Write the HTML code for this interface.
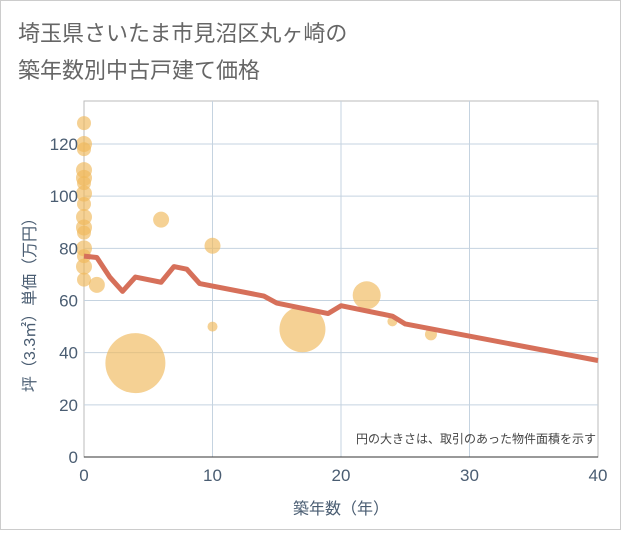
<!DOCTYPE html>
<html><head><meta charset="utf-8"><style>
body{margin:0;background:#fff;font-family:"Liberation Sans","Noto Sans CJK JP",sans-serif}
#c{position:relative;width:621px;height:530px;box-sizing:border-box;border:1px solid #ccc;background:#fff}
</style></head><body>
<div id="c">
<svg width="619" height="528" font-family="Liberation Sans, Noto Sans CJK JP, sans-serif">
<text x="17" y="40" font-size="22" fill="#666">埼玉県さいたま市見沼区丸ヶ崎の</text>
<text x="17" y="77" font-size="22" fill="#666">築年数別中古戸建て価格</text>
<g id="grid"></g><g id="bub"></g><g id="ln"></g><g id="ax"></g>
<text x="595" y="442" font-size="12" fill="#444" text-anchor="end">円の大きさは、取引のあった物件面積を示す</text>
<text x="340" y="513" font-size="16" fill="#4a5d72" text-anchor="middle">築年数（年）</text>
<text transform="translate(34,300) rotate(-90)" font-size="16" fill="#4a5d72" text-anchor="middle">坪（3.3㎡）単価（万円）</text>
</svg></div>
<script>
const xTicks=[0,10,20,30,40];
const yTicks=[0,20,40,60,80,100,120];
const lineX=[0,1,2,3,4,6,7,8,9,14,15,19,20,24,25,40];
const lineY=[77,76.5,69,63.5,69,67,73,72,66.5,61.7,59,55,58,54,51,37];
const bubX=[0,0,0,0,0,0,0,0,0,0,0,0,0,0,0,1,6,10,10,4,17,22,24,27];
const bubY=[128,120,118,110,107,105,101,97,92,88,86,80,77,73,68,66,91,81,50,36,49,62,52,47];
const bubR=[7,8,7,8,8,7,8,7,8,8,7,8,7,8,7,8,8,8,5,30,23,14,5,6];
const X0=83,X1=597,Y0=456,YT=100;
const sx=v=>X0+(v/40)*(X1-X0);
const sy=v=>Y0-v*(313/120);
const NS="http://www.w3.org/2000/svg";
function mk(t,p,a){const e=document.createElementNS(NS,t);for(const k in a)e.setAttribute(k,a[k]);p.appendChild(e);return e;}
const g=document.getElementById('grid');
const frame=mk('rect',g,{x:X0,y:YT,width:X1-X0,height:Y0-YT,fill:'none',stroke:'#bbb'});


xTicks.forEach(v=>{if(v>0&&v<40){const l=mk('line',g,{x1:sx(v),x2:sx(v),y1:YT,y2:Y0,stroke:'#c5d3e0'});

}});
yTicks.forEach(v=>{if(v>0){const l=mk('line',g,{x1:X0,x2:X1,y1:sy(v),y2:sy(v),stroke:'#c5d3e0'});

}});
const ax=document.getElementById('ax');
const xl=mk('line',ax,{x1:X0,x2:X1,y1:Y0,y2:Y0,stroke:'#333'});


xTicks.forEach(v=>{const t=mk('text',ax,{x:sx(v),y:Y0+24,'font-size':17,fill:'#4a5d72','text-anchor':'middle'});t.textContent=v;

});
yTicks.forEach(v=>{const t=mk('text',ax,{x:X0-6,y:sy(v)+6,'font-size':17,fill:'#4a5d72','text-anchor':'end'});t.textContent=v;

});
const b=document.getElementById('bub');
bubX.forEach((v,i)=>{const c=mk('circle',b,{cx:sx(v),cy:sy(bubY[i]),r:bubR[i],fill:'#f0b95a','fill-opacity':0.65});

});
const p=mk('polyline',document.getElementById('ln'),{points:lineX.map((v,i)=>sx(v)+','+sy(lineY[i])).join(' '),fill:'none',stroke:'#d6705a','stroke-width':5,'stroke-linejoin':'round'});


</script>
</body></html>
